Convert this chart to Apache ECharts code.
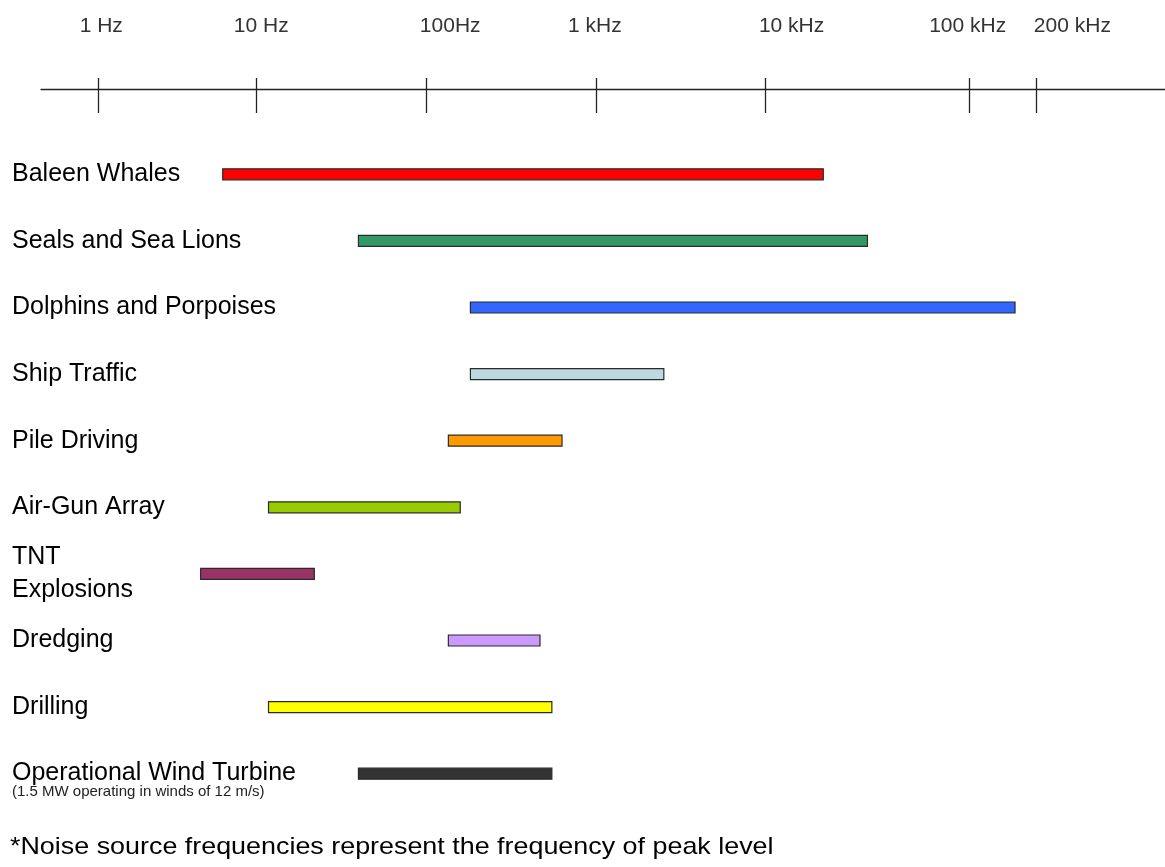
<!DOCTYPE html>
<html>
<head>
<meta charset="utf-8">
<script src="https://cdn.jsdelivr.net/npm/echarts@6/dist/echarts.min.js"></script>
<style>
  html, body { margin: 0; padding: 0; background: #ffffff; }
  #chart { width: 1165px; height: 867px; }
</style>
</head>
<body>
<div id="chart"></div>
<script>
// ---- Data (x positions are in the drawing's axis units: 100Hz = 2, 1 kHz = 3, 10 kHz = 4) ----
const CATEGORIES = [
  'Baleen Whales',
  'Seals and Sea Lions',
  'Dolphins and Porpoises',
  'Ship Traffic',
  'Pile Driving',
  'Air-Gun Array',
  'TNT\nExplosions',
  'Dredging',
  'Drilling',
  'Operational Wind Turbine'
];
const CATEGORY_NOTES = ['', '', '', '', '', '', '', '', '', '(1.5 MW operating in winds of 12 m/s)'];
const RANGE_START = [0.80, 1.60, 2.26, 2.26, 2.13, 1.07, 0.67, 2.13, 1.07, 1.60];
const RANGE_END   = [4.34, 4.60, 5.47, 3.40, 2.80, 2.20, 1.34, 2.67, 2.74, 2.74];
const TICK_VALUES = [0.067, 1, 2, 3, 4, 5.198, 5.597];
const TICK_LABELS = ['1 Hz', '10 Hz', '100Hz', '1 kHz', '10 kHz', '100 kHz', '200 kHz'];
const TICK_LABEL_AT = [0.084, 1.027, 2.141, 2.994, 4.153, 5.191, 5.808];
const FOOTNOTE = '*Noise source frequencies represent the frequency of peak level';

// ---- Styles ----
const BAR_COLORS = ['#ff0000', '#339966', '#3366ff', '#bcd9df', '#ff9900', '#99cc00', '#993366', '#cc99ff', '#ffff00', '#333333'];
const FONT = "'Liberation Sans', Arial, Helvetica, sans-serif";
const AX_MIN = -0.271, AX_MAX = 6.354;

const chart = echarts.init(document.getElementById('chart'), null, { renderer: 'canvas' });

function tickLabel(v) {
  let best = 0, bd = Infinity;
  TICK_LABEL_AT.forEach((p, i) => { const d = Math.abs(p - v); if (d < bd) { bd = d; best = i; } });
  return TICK_LABELS[best];
}

function renderItem(params, api) {
  const row = api.value(2);
  const p0 = api.coord([api.value(0), row]);
  const p1 = api.coord([api.value(1), row]);
  const h = 11;
  return {
    type: 'rect',
    shape: { x: p0[0], y: p0[1] - h / 2, width: p1[0] - p0[0], height: h },
    style: { fill: BAR_COLORS[params.dataIndex], stroke: '#2a2a2a', lineWidth: 1.2 }
  };
}

const tickLine = { color: '#222', width: 1.3 };

const option = {
  animation: false,
  backgroundColor: '#ffffff',
  grid: { left: 41, right: 0, top: 141, bottom: 60 },
  xAxis: [
    {
      type: 'value', position: 'top', offset: 52, min: AX_MIN, max: AX_MAX,
      axisLine: { show: true, lineStyle: tickLine },
      axisTick: { show: true, inside: true, length: 24, customValues: TICK_VALUES, lineStyle: tickLine },
      axisLabel: {
        show: true, customValues: TICK_LABEL_AT, formatter: tickLabel,
        margin: 63, verticalAlign: 'middle', fontSize: 21, color: '#333', fontFamily: FONT
      },
      splitLine: { show: false }
    },
    {
      type: 'value', position: 'top', offset: 52, min: AX_MIN, max: AX_MAX,
      axisLine: { show: false },
      axisTick: { show: true, inside: false, length: 11, customValues: TICK_VALUES, lineStyle: tickLine },
      axisLabel: { show: false },
      splitLine: { show: false }
    }
  ],
  yAxis: {
    type: 'category', data: CATEGORIES, inverse: true,
    axisLine: { show: false }, axisTick: { show: false }, splitLine: { show: false },
    axisLabel: {
      interval: 0, align: 'left', margin: 29, fontSize: 25, lineHeight: 33,
      color: '#000', fontFamily: FONT,
      formatter: function (v, i) {
        const note = CATEGORY_NOTES[i];
        return note ? '{s| }\n{a|' + v + '}\n{b|' + note + '}' : v;
      },
      rich: {
        s: { fontSize: 1, lineHeight: 12 },
        a: { fontSize: 25, lineHeight: 24, color: '#000', fontFamily: FONT },
        b: { fontSize: 15, lineHeight: 14, color: '#222', fontFamily: FONT }
      }
    }
  },
  series: [{
    type: 'custom',
    xAxisIndex: 0, yAxisIndex: 0,
    renderItem: renderItem,
    encode: { x: [0, 1], y: 2 },
    data: CATEGORIES.map((c, i) => [RANGE_START[i], RANGE_END[i], i])
  }],
  graphic: [{
    type: 'text', x: 10, y: 847, scaleX: 1.12,
    style: { text: FOOTNOTE, fontSize: 24, fontFamily: FONT, fill: '#000', verticalAlign: 'middle', align: 'left' }
  }]
};

chart.setOption(option);
</script>
</body>
</html>
